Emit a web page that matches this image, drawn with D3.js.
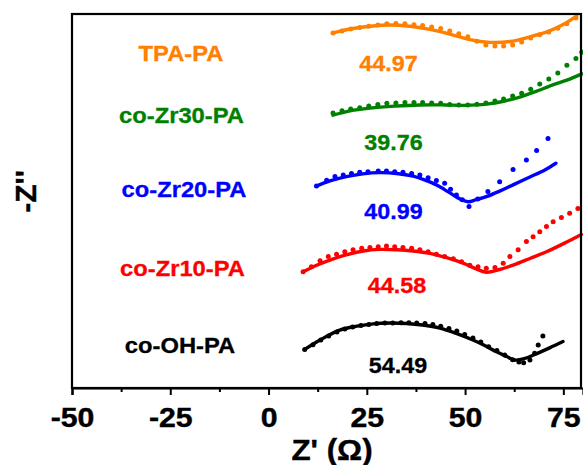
<!DOCTYPE html>
<html>
<head>
<meta charset="utf-8">
<script src="https://cdn.jsdelivr.net/npm/d3@7"></script>
<style>
  html, body { margin: 0; padding: 0; background: #fff; }
  svg { display: block; }
  text { font-family: "Liberation Sans", Arial, sans-serif; font-weight: bold; }
</style>
</head>
<body>
<svg id="chart" width="583" height="465"></svg>
<script>
// ---------------- DATA ----------------
const seriesNames = ["TPA-PA", "co-Zr30-PA", "co-Zr20-PA", "co-Zr10-PA", "co-OH-PA"];
const seriesValues = ["44.97", "39.76", "40.99", "44.58", "54.49"];
const seriesColors = ["#FF8000", "#008000", "#0000FF", "#FF0000", "#000000"];
const xTicks = [-50, -25, 0, 25, 50, 75];
const xMinorTicks = [-37.5, -12.5, 12.5, 37.5, 62.5];

// fitted curves (Z', offset -Z'')
const fitTPA = [[16.4,90.2],[20.7,91.2],[25.8,91.9],[30.9,92.2],[35.9,91.9],[41.0,91.1],[46.1,89.9],[51.2,88.5],[56.3,87.8],[61.4,88.0],[66.5,89.2],[71.5,90.7],[75.3,92.5],[78.4,94.5]];
const fitZr30 = [[16.4,69.3],[20.7,70.4],[25.8,71.1],[32.1,71.6],[38.5,71.9],[44.8,71.9],[49.9,71.8],[55.5,72.1],[60.1,72.9],[63.9,73.9],[67.7,75.2],[72.3,77.0],[75.9,78.2],[79.7,79.8]];
const fitZr20 = [[12.2,51.3],[15.6,52.6],[19.8,53.7],[24.0,54.4],[28.3,54.7],[32.6,54.5],[36.8,53.8],[39.8,52.8],[42.7,51.6],[44.8,50.4],[47.0,49.0],[48.9,47.9],[50.8,47.3],[53.0,47.9],[55.4,48.6],[58.8,50.0],[62.2,51.6],[66.5,53.6],[70.3,55.4],[73.1,57.1]];
const fitZr10 = [[8.8,29.5],[11.8,31.0],[15.6,32.5],[19.7,33.8],[24.1,34.8],[28.3,35.2],[32.6,35.1],[36.7,34.8],[41.0,34.2],[45.3,33.1],[49.5,31.7],[52.5,30.4],[55.4,29.4],[58.8,30.1],[62.2,31.2],[66.5,32.9],[70.7,34.6],[75.3,36.8],[79.6,39.0]];
const fitOH = [[9.2,9.8],[13.1,12.2],[18.1,14.7],[22.5,15.7],[26.6,16.3],[30.9,16.5],[35.1,16.4],[39.2,16.0],[43.6,15.2],[47.9,13.8],[52.0,12.2],[55.0,10.8],[58.0,9.2],[60.6,8.0],[62.6,7.1],[65.2,7.5],[67.7,8.5],[71.5,10.2],[74.9,11.8]];

// measured points
const ptsTPA = [[16.4,90.2],[18.7,90.7],[20.9,91.2],[23.2,91.6],[25.5,91.9],[27.8,92.2],[30.1,92.5],[32.4,92.6],[34.7,92.5],[37.0,92.3],[39.2,92.1],[41.5,91.7],[43.8,91.3],[46.1,90.7],[48.4,90.0],[50.7,89.2],[53.0,88.1],[55.3,87.1],[57.6,86.9],[59.8,86.9],[62.1,87.1],[64.4,87.9],[66.7,88.9],[69.0,89.7],[71.3,90.4],[73.6,91.4],[75.9,92.5],[78.2,94.0]];
const ptsZr30 = [[16.4,69.85],[18.7,70.4],[20.9,70.9],[23.2,71.2],[25.5,71.6],[27.8,72.0],[30.1,72.3],[32.4,72.4],[34.7,72.5],[37.0,72.5],[39.2,72.5],[41.5,72.4],[43.8,72.3],[46.1,72.0],[48.4,71.9],[50.7,71.9],[53.0,72.1],[55.3,72.4],[57.6,72.9],[59.8,73.4],[62.1,74.2],[64.4,74.9],[66.7,75.9],[69.0,77.2],[71.3,78.5],[73.6,80.0],[75.9,82.0],[78.2,83.7],[79.7,85.3]];
const ptsZr20 = [[12.2,51.3],[14.8,52.8],[16.9,53.7],[19.0,54.1],[21.1,54.5],[23.2,54.8],[25.3,54.9],[27.9,55.1],[30.0,55.1],[32.1,54.9],[34.2,54.8],[36.4,54.5],[38.5,54.1],[40.6,53.4],[42.7,52.7],[44.8,52.0],[46.3,50.5],[47.8,49.0],[49.3,47.8],[51.0,46.1],[53.2,48.0],[55.8,49.9],[58.8,52.4],[62.2,55.5],[65.6,57.9],[68.2,60.3],[71.1,63.4]];
const ptsZr10 = [[8.8,29.5],[10.9,30.8],[13.1,32.3],[15.2,33.4],[17.3,34.0],[19.4,34.6],[21.5,35.1],[23.7,35.5],[25.8,35.7],[27.9,35.9],[30.0,36.1],[32.1,35.9],[34.2,35.7],[36.4,35.5],[38.5,35.1],[40.6,34.6],[42.7,34.0],[44.8,33.4],[47.0,32.8],[49.1,32.1],[51.2,31.2],[53.3,30.8],[55.4,30.4],[57.6,30.6],[59.7,31.7],[61.4,33.4],[63.5,35.1],[65.6,37.2],[67.3,38.4],[69.0,39.7],[70.7,41.0],[72.4,42.2],[74.5,43.3],[76.6,44.4],[78.7,45.6]];
const ptsOH = [[9.2,9.8],[11.3,11.0],[13.3,12.2],[15.3,13.2],[17.4,14.2],[19.4,15.0],[21.4,15.5],[23.5,15.9],[25.5,16.1],[27.5,16.4],[29.6,16.5],[31.6,16.5],[33.7,16.6],[35.7,16.6],[37.7,16.5],[39.8,16.4],[41.8,16.1],[43.8,15.7],[45.9,15.1],[47.9,14.5],[49.9,13.6],[52.0,12.7],[54.0,11.7],[56.0,10.5],[58.1,9.5],[60.1,8.4],[62.1,7.2],[63.7,6.6],[64.9,6.4],[66.5,7.1],[67.7,8.8],[68.6,10.9],[69.8,13.2]];

const fits = [fitTPA, fitZr30, fitZr20, fitZr10, fitOH];
const points = [ptsTPA, ptsZr30, ptsZr20, ptsZr10, ptsOH];

// ---------------- LAYOUT ----------------
const svg = d3.select("#chart");
const L = 72, R = 583, T = 14, B = 388;
const x = d3.scaleLinear().domain([-50, 80]).range([L, R]);
const y = d3.scaleLinear().domain([0, 95]).range([B, T]);

svg.append("defs").append("clipPath").attr("id", "clip")
  .append("rect").attr("x", L).attr("y", T).attr("width", R - L).attr("height", B - T);

const plot = svg.append("g").attr("clip-path", "url(#clip)");

const line = d3.line().x(d => x(d[0])).y(d => y(d[1])).curve(d3.curveCatmullRom.alpha(0.5));

fits.forEach((f, i) => {
  plot.append("path").attr("d", line(f))
    .attr("fill", "none").attr("stroke", seriesColors[i])
    .attr("stroke-width", 3.4).attr("stroke-linejoin", "round").attr("stroke-linecap", "round");
});
points.forEach((p, i) => {
  plot.selectAll(null).data(p).enter().append("circle")
    .attr("cx", d => x(d[0])).attr("cy", d => y(d[1])).attr("r", 2.5)
    .attr("fill", seriesColors[i]);
});

// frame
svg.append("rect").attr("x", L).attr("y", T).attr("width", 582 - L - 1).attr("height", B - T)
  .attr("fill", "none").attr("stroke", "#000").attr("stroke-width", 2.2);

// bottom axis
const axis = d3.axisBottom(x).tickValues(xTicks).tickSize(7).tickFormat(d3.format("d"));
const gAx = svg.append("g").attr("transform", `translate(0,${B})`).call(axis);
gAx.select(".domain").attr("stroke-width", 2.2);
gAx.selectAll(".tick line").attr("stroke-width", 2);
gAx.selectAll(".tick text").remove();
gAx.selectAll(".tick").each(function(d) {
  d3.select(this).append("text")
    .attr("transform", "translate(0,39) scale(1.08,1)")
    .attr("text-anchor", "middle").attr("fill", "#000")
    .attr("stroke", "#000").attr("stroke-width", 0.4)
    .style("font-size", "28px").style("font-family", '"Liberation Sans", Arial, sans-serif').style("font-weight", "bold")
    .text(d);
});
const axMinor = d3.axisBottom(x).tickValues(xMinorTicks).tickSize(4).tickFormat("");
const gMin = svg.append("g").attr("transform", `translate(0,${B})`).call(axMinor);
gMin.select(".domain").remove();
gMin.selectAll(".tick line").attr("stroke-width", 2);

// axis titles
svg.append("text").attr("transform", "translate(332,460) scale(1.08,1)")
  .attr("text-anchor", "middle").attr("stroke", "#000").attr("stroke-width", 0.4)
  .style("font-size", "29px").text("Z' (Ω)");
svg.append("text").attr("transform", "translate(36,191.5) rotate(-90)")
  .attr("text-anchor", "middle").attr("stroke", "#000").attr("stroke-width", 0.4)
  .style("font-size", "30px").text("-Z''");

// series labels
const labelPos = [[181, 61], [181.5, 123], [184, 197], [182.5, 276], [180, 353]];
const valuePos = [[388.5, 71], [393.5, 150], [393.5, 219], [397, 293], [398, 373]];
seriesNames.forEach((n, i) => {
  svg.append("text").attr("transform", `translate(${labelPos[i][0]},${labelPos[i][1]}) scale(1.08,1)`)
    .attr("text-anchor", "middle").attr("fill", seriesColors[i])
    .attr("stroke", seriesColors[i]).attr("stroke-width", 0.3)
    .style("font-size", "22px").text(n);
  svg.append("text").attr("transform", `translate(${valuePos[i][0]},${valuePos[i][1]}) scale(1.06,1)`)
    .attr("text-anchor", "middle").attr("fill", seriesColors[i])
    .attr("stroke", seriesColors[i]).attr("stroke-width", 0.3)
    .style("font-size", "22px").text(seriesValues[i]);
});
</script>
</body>
</html>
